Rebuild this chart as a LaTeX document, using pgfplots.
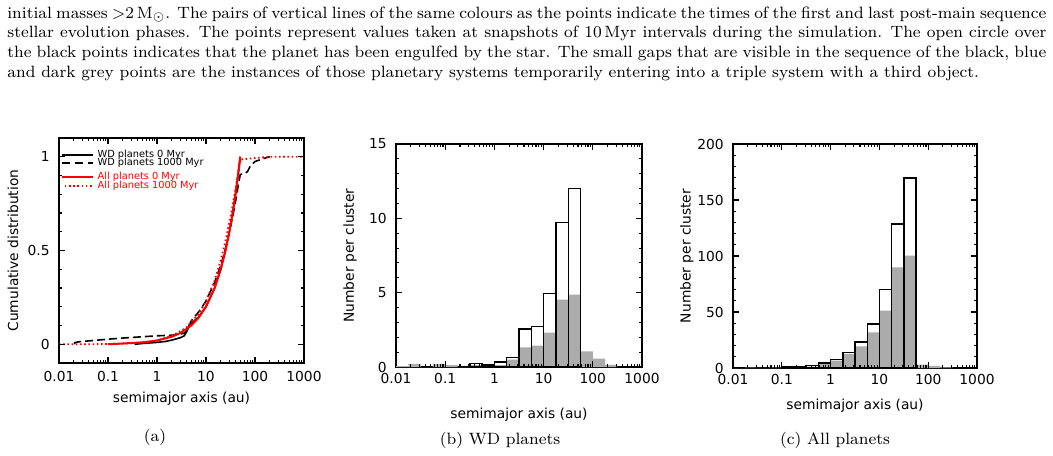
\documentclass[border=0pt]{standalone}
\usepackage{pgfplots}
\pgfplotsset{compat=1.18}
\usepackage{fontspec}
\newfontfamily\plotfont{DejaVu Sans}
\definecolor{bargrey}{gray}{0.67}

\newcommand{\plotsize}{\plotfont\fontsize{6.9}{8}\selectfont}
\newcommand{\legsize}{\plotfont\fontsize{4.9}{6}\selectfont}

% settings shared by the three panels
\pgfplotsset{
  every axis/.append style={
    scale only axis,
    xmode=log,
    xmin=0.01, xmax=1000,
    xtick={0.01,0.1,1,10,100,1000},
    xticklabels={0.01,0.1,1,10,100,1000},
    tick align=inside,
    major tick length=2.8pt, minor tick length=1.6pt,
    tick style={draw=black, line width=0.55pt},
    axis line style={line width=0.6pt},
    ticklabel style={font=\plotsize},
    label style={font=\plotsize},
    xticklabel style={anchor=north, inner sep=0pt, yshift=-3pt},
    yticklabel style={anchor=east, inner sep=0pt, xshift=-4.5pt},
    xlabel={semimajor axis (au)},
    ylabel style={anchor=center},
    xlabel style={anchor=center},
  },
}
\tikzset{
  greybars/.style={ybar interval, fill=bargrey, draw=none},
  openbars/.style={ybar interval, fill=none, draw=black, line width=0.7pt},
  tk/.style={black, line width=0.55pt},
}

% inward tick marks on all four sides of a panel
% #1 = ymin, #2 = ymax, #3 = major y ticks, #4 = minor y ticks
\newcommand{\boxticks}[4]{%
  \pgfplotsinvokeforeach{0.1,1,10,100}{%
    \draw[tk] (axis cs:##1,#1) -- ++(0pt,2.8pt);
    \draw[tk] (axis cs:##1,#2) -- ++(0pt,-2.8pt);}%
  \pgfplotsinvokeforeach{0.02,0.03,0.04,0.05,0.06,0.07,0.08,0.09,
                         0.2,0.3,0.4,0.5,0.6,0.7,0.8,0.9,
                         2,3,4,5,6,7,8,9,
                         20,30,40,50,60,70,80,90,
                         200,300,400,500,600,700,800,900}{%
    \draw[tk] (axis cs:##1,#1) -- ++(0pt,1.6pt);
    \draw[tk] (axis cs:##1,#2) -- ++(0pt,-1.6pt);}%
  \pgfplotsinvokeforeach{#3}{%
    \draw[tk] (axis cs:0.01,##1) -- ++(2.8pt,0pt);
    \draw[tk] (axis cs:1000,##1) -- ++(-2.8pt,0pt);}%
  \pgfplotsinvokeforeach{#4}{%
    \draw[tk] (axis cs:0.01,##1) -- ++(1.6pt,0pt);
    \draw[tk] (axis cs:1000,##1) -- ++(-1.6pt,0pt);}%
}

\begin{document}
\begin{tikzpicture}
\useasboundingbox (0,0) rectangle (526.5pt,227.5pt);

% caption text above the panels
\node[anchor=base west, inner sep=0pt] at (3.5pt,218.35pt) {\parbox[t]{519.5pt}{\fontsize{8.2}{9.85}\selectfont
initial masses $>$2\,M$_\odot$. The pairs of vertical lines of the same colours as the points indicate the times of the first and last post-main sequence\linebreak
stellar evolution phases. The points represent values taken at snapshots of 10\,Myr intervals during the simulation. The open circle over\linebreak
the black points indicates that the planet has been engulfed by the star. The small gaps that are visible in the sequence of the black, blue\linebreak
and dark grey points are the instances of those planetary systems temporarily entering into a triple system with a third object.}};

% (a) cumulative distributions
\begin{axis}[
  at={(29.5pt,46pt)}, anchor=south west,
  width=122.5pt, height=112.5pt,
  ymin=-0.1, ymax=1.1,
  ytick={0,0.5,1}, yticklabels={0,0.5,1},
  ylabel={Cumulative distribution},
  xticklabel style={yshift=-1.1pt},
  xlabel style={at={(axis description cs:0.5,-0.16)}},
  ylabel style={at={(axis description cs:-0.188,0.5)}},
]
\addplot[black, line width=0.8pt, dash pattern=on 4pt off 2pt] coordinates {
(0.0205,0)(0.021,0.008)(0.025,0.013)(0.05,0.02)(0.1,0.027)(0.2,0.033)
(0.5,0.04)(1,0.045)(2,0.048)(3,0.055)(3.5,0.058)(4,0.07)(4.5,0.1)
(5,0.125)(6,0.15)(7,0.17)(10,0.23)(15,0.33)(20,0.42)(25,0.51)(30,0.6)
(35,0.68)(40,0.76)(45,0.84)(48,0.88)(50,0.905)(60,0.91)(70,0.92)
(80,0.95)(100,0.975)(130,0.985)(170,0.995)(200,1.0)};
\addplot[black, line width=0.8pt] coordinates {
(0.35,0)(0.5,0.004)(1,0.01)(1.5,0.015)(2,0.022)(3,0.035)(3.6,0.045)
(4,0.065)(4.5,0.095)(5,0.11)(7,0.145)(10,0.2)(15,0.3)(20,0.4)(25,0.5)
(30,0.6)(35,0.7)(40,0.8)(45,0.9)(50,1.0)};
\addplot[red, line width=1pt] coordinates {
(0.1,0)(0.2,0.004)(0.5,0.01)(1,0.02)(2,0.04)(3,0.06)(5,0.1)(7,0.14)
(10,0.2)(15,0.3)(20,0.4)(25,0.5)(30,0.6)(35,0.7)(40,0.8)(45,0.9)(50,1.0)};
\addplot[red, line width=0.9pt, dash pattern=on 0.8pt off 1.3pt] coordinates {
(0.01,0)(0.03,0)(0.1,0.001)(0.3,0.005)(0.6,0.01)(1,0.02)(2,0.045)
(3,0.07)(4,0.09)(5,0.12)(7,0.16)(10,0.23)(15,0.34)(20,0.45)(25,0.55)
(30,0.65)(35,0.74)(40,0.83)(45,0.91)(50,0.985)(60,0.987)(100,0.993)
(200,1.0)(1000,1.0)};
\boxticks{-0.1}{1.1}{0,0.5,1}{0.1,0.2,0.3,0.4,0.6,0.7,0.8,0.9}
% key
\draw[black, line width=0.7pt] (rel axis cs:0.012,0.924) -- (rel axis cs:0.139,0.924);
\node[anchor=west, inner sep=0pt, font=\legsize] at (rel axis cs:0.156,0.924) {WD planets 0 Myr};
\draw[black, line width=0.7pt, dash pattern=on 4pt off 2.5pt] (rel axis cs:0.012,0.889) -- (rel axis cs:0.139,0.889);
\node[anchor=west, inner sep=0pt, font=\legsize] at (rel axis cs:0.156,0.889) {WD planets 1000 Myr};
\draw[red, line width=0.7pt] (rel axis cs:0.012,0.827) -- (rel axis cs:0.139,0.827);
\node[anchor=west, inner sep=0pt, font=\legsize, text=red] at (rel axis cs:0.156,0.827) {All planets 0 Myr};
\draw[red, line width=0.8pt, dash pattern=on 0.8pt off 1.3pt] (rel axis cs:0.024,0.787) -- (rel axis cs:0.139,0.787);
\node[anchor=west, inner sep=0pt, font=\legsize, text=red] at (rel axis cs:0.156,0.787) {All planets 1000 Myr};
\end{axis}

% (b) histogram, WD planets
\begin{axis}[
  at={(198pt,44pt)}, anchor=south west,
  width=123pt, height=111.5pt,
  ymin=0, ymax=15,
  ytick={0,5,10,15}, yticklabels={0,5,10,15},
  ylabel={Number per cluster},
  xlabel style={at={(axis description cs:0.5,-0.215)}},
  ylabel style={at={(axis description cs:-0.187,0.5)}},
]
\addplot[greybars] coordinates {
(0.01,0.06)(0.017783,0.2)(0.031623,0)(0.056234,0.2)(0.1,0.12)(0.17783,0)
(0.31623,0.12)(0.56234,0.05)(1,0.12)(1.7783,0.5)(3.1623,1.32)(5.6234,1.43)
(10,2.31)(17.783,4.53)(31.623,4.87)(56.234,1.05)(100,0.56)(177.83,0.15)
(316.23,0.15)};
\addplot[openbars] coordinates {
(0.31623,0.25)(0.56234,0.13)(1,0.34)(1.7783,0.64)(3.1623,2.55)(5.6234,2.73)
(10,4.93)(17.783,9.73)(31.623,12.0)(56.234,12.0)};
\boxticks{0}{15}{5,10}{1,2,3,4,6,7,8,9,11,12,13,14}
\end{axis}

% (c) histogram, all planets
\begin{axis}[
  at={(366.5pt,43.5pt)}, anchor=south west,
  width=122pt, height=112pt,
  ymin=0, ymax=200,
  ytick={0,50,100,150,200}, yticklabels={0,50,100,150,200},
  ylabel={Number per cluster},
  xlabel style={at={(axis description cs:0.5,-0.17)}},
  ylabel style={at={(axis description cs:-0.189,0.5)}},
]
\addplot[greybars] coordinates {
(0.01,0)(0.017783,0.4)(0.031623,0.2)(0.056234,0.4)(0.1,0.4)(0.17783,0.8)
(0.31623,1.3)(0.56234,3.6)(1,6.5)(1.7783,12.5)(3.1623,19.3)(5.6234,31.8)
(10,51.2)(17.783,89.9)(31.623,100.3)(56.234,3.0)(100,2.0)(177.83,0.5)
(316.23,0.5)};
\addplot[openbars] coordinates {
(0.1,0.8)(0.17783,1.2)(0.31623,2.0)(0.56234,4.5)(1,7.4)(1.7783,14)
(3.1623,23.2)(5.6234,39.3)(10,70.2)(17.783,128.6)(31.623,169.6)(56.234,169.6)};
\boxticks{0}{200}{50,100,150}{10,20,30,40,60,70,80,90,110,120,130,140,160,170,180,190}
\end{axis}

% sub-captions
\node[anchor=base, inner sep=0pt, font=\fontsize{8.2}{10}\selectfont] at (77.5pt,7pt) {(a)};
\node[anchor=base, inner sep=0pt, font=\fontsize{8.2}{10}\selectfont] at (250pt,5.5pt) {(b) WD planets};
\node[anchor=base, inner sep=0pt, font=\fontsize{8.2}{10}\selectfont] at (417.5pt,5.5pt) {(c) All planets};
\end{tikzpicture}
\end{document}
